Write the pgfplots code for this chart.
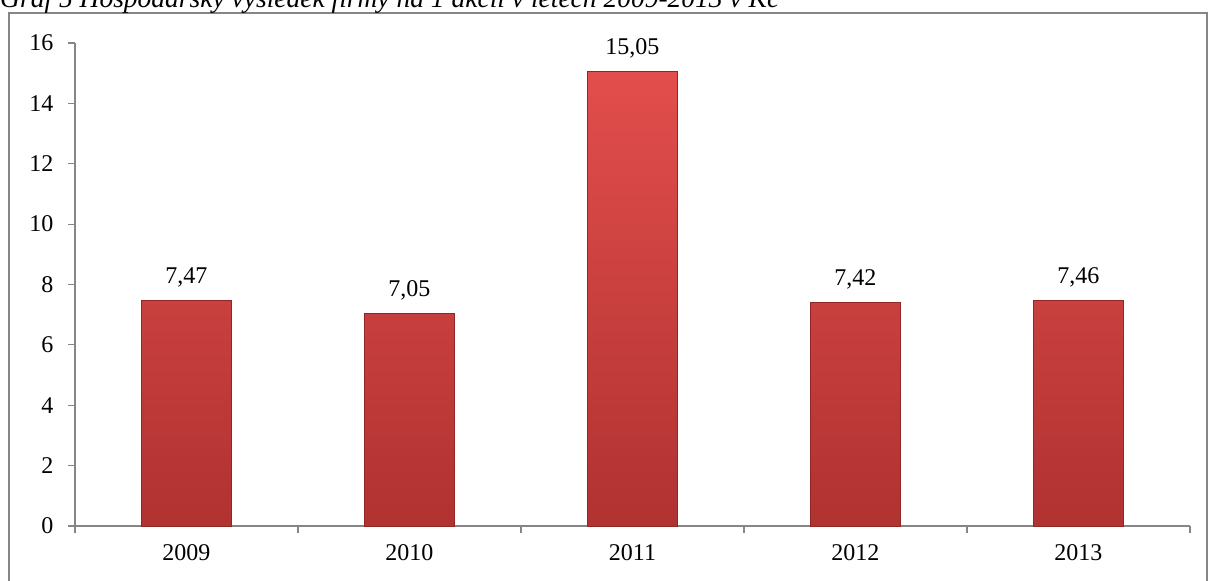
\documentclass[border=0pt]{standalone}
\usepackage{pgfplots}
\pgfplotsset{compat=1.18}
\usepackage{fontspec}
\setmainfont{Liberation Serif}
\definecolor{axgray}{RGB}{134,134,134}
\definecolor{bartop}{RGB}{226,78,76}
\definecolor{barbot}{RGB}{176,50,49}
\definecolor{baredge}{RGB}{145,38,38}
\begin{document}
\begin{tikzpicture}[x=1pt,y=1pt]
\useasboundingbox (0,0) rectangle (1208,-581);
\draw[axgray, line width=2pt] (9,-13) rectangle (1207,-600);
\node[anchor=base west, inner sep=0pt, font=\fontsize{27.5}{31}\selectfont\itshape] at (0,-7) {Graf 5 Hospodářský výsledek firmy na 1 akcii v letech 2009-2013 v Kč};
\begin{axis}[
  at={(75pt,-526pt)}, anchor=south west,
  scale only axis, width=1115pt, height=483pt,
  xmin=-0.5, xmax=4.5, ymin=0, ymax=16,
  axis x line=bottom, axis y line=left,
  axis line style={-, axgray, line width=1.2pt},
  ytick={0,2,...,16},
  xtick={0,1,2,3,4},
  xticklabels={2009,2010,2011,2012,2013},
  minor xtick={-0.5,0.5,...,4.5},
  tick align=outside,
  major tick length=7pt, minor tick length=7pt,
  every tick/.style={axgray, line width=1.2pt},
  major x tick style={draw=none},
  ticklabel style={font=\fontsize{24}{28}\selectfont},
  yticklabel style={xshift=-11pt},
  xticklabel style={yshift=-8pt},
  /pgf/number format/assume math mode=true,
  ybar, bar width=90pt,
  nodes near coords,
  every node near coord/.append style={font=\fontsize{24}{28}\selectfont, anchor=base, inner sep=0pt, yshift=17pt,
    /pgf/number format/.cd, use comma, fixed, fixed zerofill, precision=2, assume math mode=true},
]
\addplot[top color=bartop, bottom color=barbot, draw=baredge, line width=0.8pt]
  coordinates {(0,7.47) (1,7.05) (2,15.05) (3,7.42) (4,7.46)};
\end{axis}
\end{tikzpicture}
\end{document}
